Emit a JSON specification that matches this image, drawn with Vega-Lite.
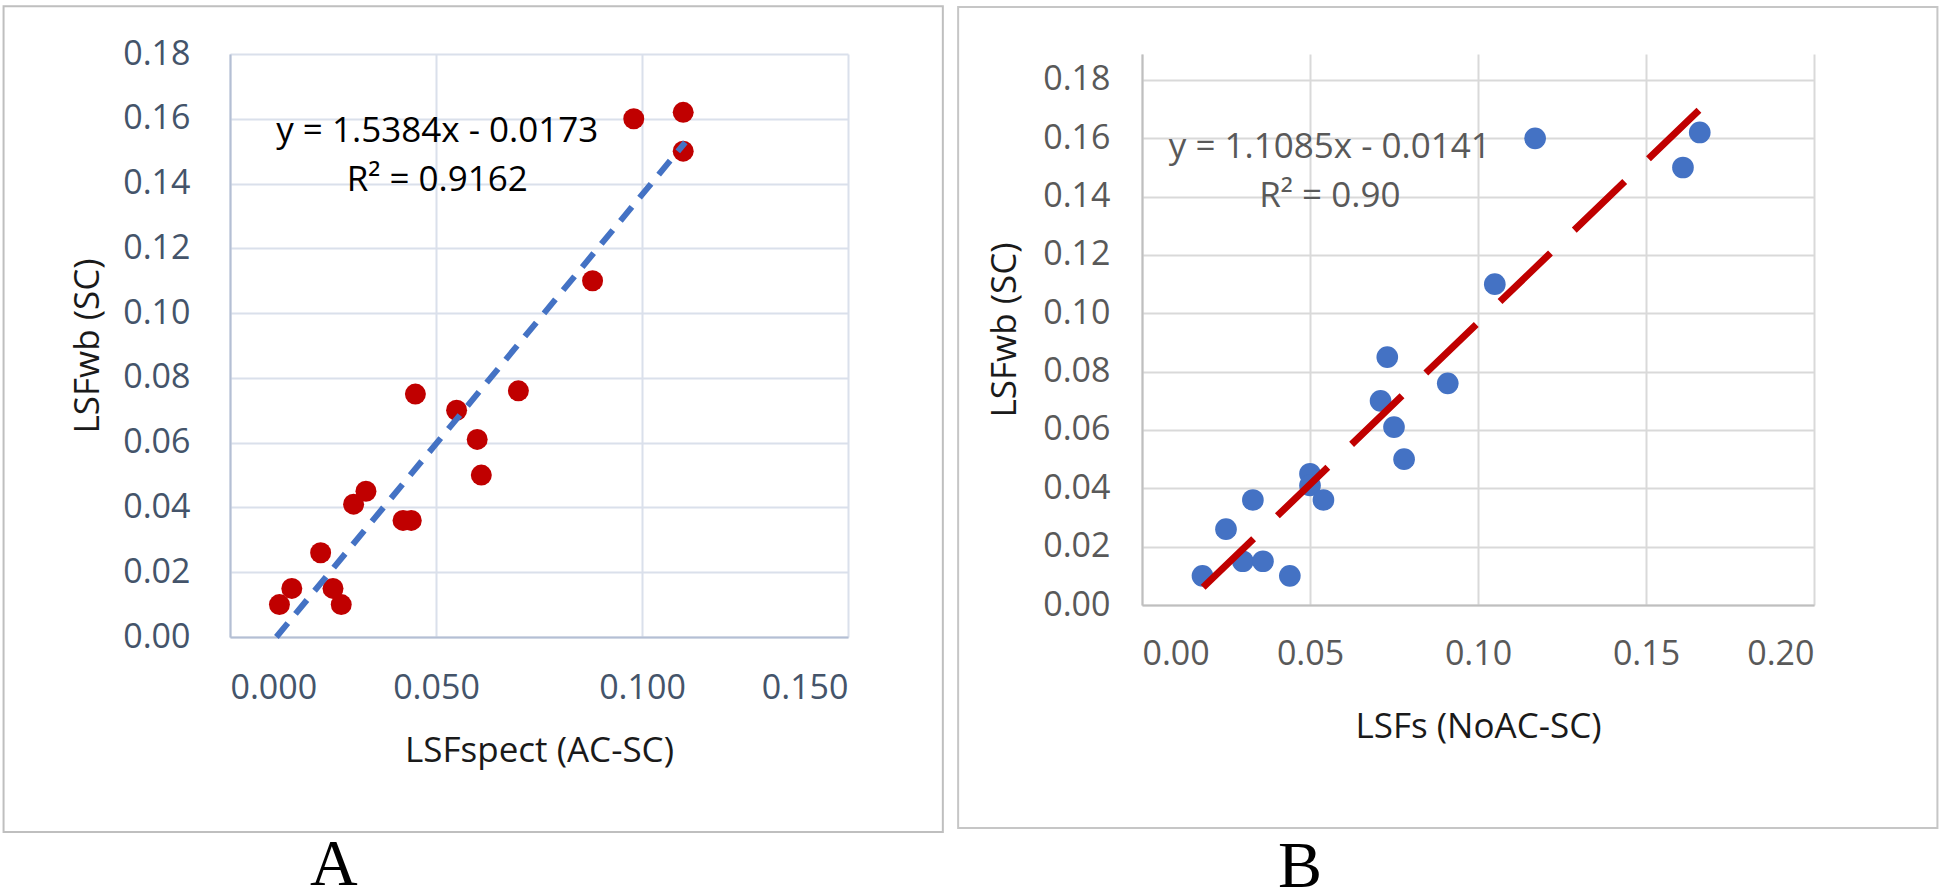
{
  "$schema": "https://vega.github.io/schema/vega-lite/v6.json",
  "background": "white",
  "padding": {"left": 2, "top": 5, "right": 0, "bottom": 0},
  "spacing": 13,
  "config": {
    "view": {"stroke": null},
    "font": "Open Sans",
    "axis": {"ticks": false, "tickSize": 0, "grid": true, "gridWidth": 2, "domainWidth": 2, "labelFont": "Open Sans", "titleFont": "Open Sans", "labelFontSize": 34, "titleFontSize": 35, "titleFontWeight": "normal"}
  },
  "datasets": {
    "ptsA": [
      {"x": 0.012, "y": 0.010}, {"x": 0.015, "y": 0.015}, {"x": 0.022, "y": 0.026}, {"x": 0.025, "y": 0.015},
      {"x": 0.027, "y": 0.010}, {"x": 0.030, "y": 0.041}, {"x": 0.033, "y": 0.045}, {"x": 0.042, "y": 0.036},
      {"x": 0.044, "y": 0.036}, {"x": 0.045, "y": 0.075}, {"x": 0.055, "y": 0.070}, {"x": 0.060, "y": 0.061},
      {"x": 0.061, "y": 0.050}, {"x": 0.070, "y": 0.076}, {"x": 0.088, "y": 0.110}, {"x": 0.098, "y": 0.160},
      {"x": 0.110, "y": 0.162}, {"x": 0.110, "y": 0.150}
    ],
    "ptsB": [
      {"x": 0.018, "y": 0.010}, {"x": 0.025, "y": 0.026}, {"x": 0.030, "y": 0.015}, {"x": 0.033, "y": 0.036},
      {"x": 0.036, "y": 0.015}, {"x": 0.044, "y": 0.010}, {"x": 0.050, "y": 0.045}, {"x": 0.050, "y": 0.041},
      {"x": 0.054, "y": 0.036}, {"x": 0.071, "y": 0.070}, {"x": 0.073, "y": 0.085}, {"x": 0.075, "y": 0.061},
      {"x": 0.078, "y": 0.050}, {"x": 0.091, "y": 0.076}, {"x": 0.105, "y": 0.110}, {"x": 0.117, "y": 0.160},
      {"x": 0.161, "y": 0.150}, {"x": 0.166, "y": 0.162}
    ],
    "lineA": [{"x": 0.01125, "y": 0.0}, {"x": 0.1105, "y": 0.1527}],
    "lineB": [{"x": 0.0182, "y": 0.0061}, {"x": 0.1668, "y": 0.1708}],
    "eqA": [{"x": 0.0503, "y": 0.1562, "label": "y = 1.5384x - 0.0173"}, {"x": 0.0503, "y": 0.1411, "label": "R² = 0.9162"}],
    "eqB": [{"x": 0.0559, "y": 0.1571, "label": "y = 1.1085x - 0.0141"}, {"x": 0.0559, "y": 0.1402, "label": "R² = 0.90"}]
  },
  "hconcat": [
    {
      "width": 618,
      "height": 583,
      "title": {"text": "A", "orient": "bottom", "anchor": "start", "frame": "group", "font": "Liberation Serif", "fontSize": 66, "fontWeight": "normal", "color": "#000000", "dx": 80, "offset": 0},
      "layer": [
        {
          "encoding": {
            "x": {"field": "x", "type": "quantitative", "scale": {"domain": [0, 0.15], "nice": false, "zero": false},
              "axis": {"values": [0, 0.05, 0.1, 0.15], "format": ".3f", "title": "LSFspect (AC-SC)", "gridColor": "#DAE0EB", "domainColor": "#B4BFD4", "labelColor": "#44546A", "titleColor": "#1A1A1A", "labelPadding": 34, "titlePadding": 28}},
            "y": {"field": "y", "type": "quantitative", "scale": {"domain": [0, 0.18], "nice": false, "zero": false},
              "axis": {"values": [0, 0.02, 0.04, 0.06, 0.08, 0.1, 0.12, 0.14, 0.16, 0.18], "format": ".2f", "title": "LSFwb (SC)", "gridColor": "#DAE0EB", "domainColor": "#B4BFD4", "labelColor": "#44546A", "titleColor": "#1A1A1A", "labelPadding": 40, "titlePadding": 17}}
          },
          "layer": [
            {"data": {"name": "ptsA"}, "mark": {"type": "point", "filled": true, "opacity": 1, "color": "#C00000", "size": 440}},
            {"data": {"name": "lineA"}, "mark": {"type": "line", "color": "#4472C4", "strokeWidth": 6, "strokeDash": [18, 12], "strokeCap": "butt"}},
            {"data": {"name": "eqA"}, "mark": {"type": "text", "fontSize": 35, "font": "Open Sans", "color": "#000000", "align": "center", "baseline": "middle"},
              "encoding": {"text": {"field": "label"}}}
          ]
        },
        {"data": {"values": [{"k": 1}]}, "mark": {"type": "rect", "fill": null, "stroke": "#BFBFBF", "strokeWidth": 2, "clip": false},
          "encoding": {"x": {"datum": -0.05496, "type": "quantitative"}, "x2": {"datum": 0.17302}, "y": {"datum": 0.19476, "type": "quantitative"}, "y2": {"datum": -0.06019}}}
      ]
    },
    {
      "width": 672,
      "height": 551,
      "title": {"text": "B", "orient": "bottom", "anchor": "start", "frame": "group", "font": "Liberation Serif", "fontSize": 66, "fontWeight": "normal", "color": "#000000", "dx": 136, "offset": 6},
      "layer": [
        {
          "encoding": {
            "x": {"field": "x", "type": "quantitative", "scale": {"domain": [0, 0.2], "nice": false, "zero": false},
              "axis": {"values": [0, 0.05, 0.1, 0.15, 0.2], "format": ".2f", "title": "LSFs (NoAC-SC)", "gridColor": "#D9D9D9", "domainColor": "#BFBFBF", "labelColor": "#595959", "titleColor": "#1A1A1A", "labelPadding": 32, "titlePadding": 38}},
            "y": {"field": "y", "type": "quantitative", "scale": {"domain": [0, 0.1889], "nice": false, "zero": false},
              "axis": {"values": [0, 0.02, 0.04, 0.06, 0.08, 0.1, 0.12, 0.14, 0.16, 0.18], "format": ".2f", "title": "LSFwb (SC)", "gridColor": "#D9D9D9", "domainColor": "#BFBFBF", "labelColor": "#595959", "titleColor": "#1A1A1A", "labelPadding": 32, "titlePadding": 20}}
          },
          "layer": [
            {"data": {"name": "ptsB"}, "mark": {"type": "point", "filled": true, "opacity": 1, "color": "#4472C4", "size": 470}},
            {"data": {"name": "lineB"}, "mark": {"type": "line", "color": "#C00000", "strokeWidth": 7, "strokeDash": [70, 33], "strokeCap": "butt"}},
            {"data": {"name": "eqB"}, "mark": {"type": "text", "fontSize": 35, "font": "Open Sans", "color": "#595959", "align": "center", "baseline": "middle"},
              "encoding": {"text": {"field": "label"}}}
          ]
        },
        {"data": {"values": [{"k": 1}]}, "mark": {"type": "rect", "fill": null, "stroke": "#C6C6C6", "strokeWidth": 2, "clip": false},
          "encoding": {"x": {"datum": -0.05472, "type": "quantitative"}, "x2": {"datum": 0.23673}, "y": {"datum": 0.20503, "type": "quantitative"}, "y2": {"datum": -0.07646}}}
      ]
    }
  ]
}
